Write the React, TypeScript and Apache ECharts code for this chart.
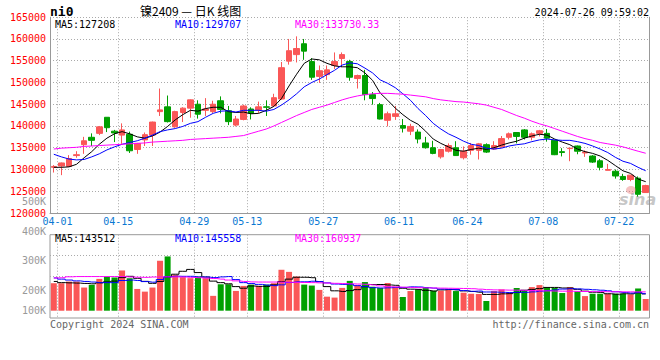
import React, { useEffect, useRef } from 'react';
import * as echarts from 'echarts';

const dates = [
  '04-01','04-02','04-03','04-08','04-09','04-10','04-11','04-12','04-15','04-16',
  '04-17','04-18','04-19','04-22','04-23','04-24','04-25','04-26','04-29','04-30',
  '05-06','05-07','05-08','05-09','05-10','05-13','05-14','05-15','05-16','05-17',
  '05-20','05-21','05-22','05-23','05-24','05-27','05-28','05-29','05-30','05-31',
  '06-03','06-04','06-05','06-06','06-07','06-11','06-12','06-13','06-14','06-17',
  '06-18','06-19','06-20','06-21','06-24','06-25','06-26','06-27','06-28','07-01',
  '07-02','07-03','07-04','07-05','07-08','07-09','07-10','07-11','07-12','07-15',
  '07-16','07-17','07-18','07-19','07-22','07-23','07-24','07-25','07-26'
];
const tickDates = ['04-01','04-15','04-29','05-13','05-27','06-11','06-24','07-08','07-22'];

const opens = [
  130500,130800,130700,133200,135700,137400,138300,142000,138800,137900,
  138100,134600,136800,137900,143300,144400,139800,143100,144100,145000,
  143600,143300,145800,143500,140200,141500,143900,143700,144400,144600,
  146200,154900,156400,158900,154800,151400,151800,153900,155500,154800,
  150900,151600,147200,144900,141300,142200,140100,138800,138600,136100,
  135000,132900,134200,135000,132700,134400,134400,135700,134700,135200,
  137400,138500,139100,137400,138300,138300,136700,134100,134800,135400,
  133800,133100,132000,129800,129600,128400,127700,128000,124700
];
const closes = [
  130700,131500,132500,133400,136600,136700,139800,139600,138400,139100,
  134300,136000,138000,140900,143700,141000,143300,144100,146000,142700,
  143900,145000,143800,141000,141600,144600,142900,144400,144300,146500,
  153400,157300,157800,157200,151200,152700,152900,154800,156400,151200,
  151600,147200,146300,141600,142800,142800,139500,139900,137000,135000,
  133700,134600,135500,133200,134200,135500,135900,134000,135500,137100,
  138200,137600,137400,138200,138900,137200,133400,133900,134900,134200,
  134000,131700,130500,130000,128500,127700,128700,124300,126300
];
const highs = [
  131000,131600,133300,134200,137500,138300,140000,142000,139100,140600,
  138700,136100,138500,141000,148600,147000,143500,144300,146100,145900,
  146400,145800,146800,144600,142300,144900,144300,145600,145900,147400,
  154700,160000,160600,160000,155600,153900,153900,156900,156900,155200,
  151800,152900,147800,145300,143300,144600,141600,140500,139200,137500,
  136600,134700,136000,136500,135300,136100,136100,136000,136500,137700,
  138500,138500,139300,138500,139100,139300,136800,134900,134900,135500,
  134400,133300,132400,131300,130000,129000,128800,128400,126500
];
const lows = [
  129300,128700,130600,132700,133600,135400,137900,138600,136300,135900,
  133800,133600,135400,135400,142300,140800,139600,140900,141900,141700,
  142300,143000,142900,140200,139900,141300,141500,143000,142300,144500,
  146000,154100,154600,155200,150600,149900,150600,153100,153500,150400,
  148600,145900,144900,141500,139900,141400,138500,137900,136000,134800,
  133500,132500,133900,133100,132300,133400,132300,133800,134500,135000,
  136900,136000,136900,136700,137600,136400,133300,133000,131900,133500,
  132900,131500,129800,129800,127900,127400,127300,123700,124600
];
const volumes = [
  235000,235000,249000,249000,198000,221000,272000,292000,284000,344000,
  278000,186000,163000,198000,427000,464000,307000,287000,278000,292000,
  278000,127000,226000,226000,169000,212000,223000,212000,223000,235000,
  350000,332000,292000,223000,215000,178000,120000,112000,195000,255000,
  219000,245000,205000,194000,237000,205000,117000,168000,182000,200000,
  171000,171000,180000,168000,154000,145000,143000,83000,168000,182000,
  154000,194000,177000,202000,219000,202000,194000,151000,202000,165000,
  125000,145000,145000,145000,145000,145000,140000,190000,100000
];
const ma5 = [
  130500,130500,130600,131200,132700,134100,135800,137200,138200,138700,
  138200,137500,137200,137700,138600,139900,141400,142600,143600,143400,
  144000,144300,144300,143300,143100,143200,142800,142900,143600,144500,
  146300,149200,151900,154400,155400,155200,154400,153800,153600,153600,
  153400,152200,150500,147600,145900,144100,142600,141300,140400,138800,
  137000,136000,135200,134400,134200,134600,134900,134600,135000,135600,
  136100,136500,137200,137700,138100,137900,137000,136300,135700,134700,
  134100,133700,133100,132100,130900,129700,129100,127800,127200
];
const ma10 = [
  133500,132900,132400,132200,132300,132900,133600,134500,135200,135800,
  136200,136600,137200,137900,138700,139100,139400,139900,140600,141000,
  142000,142900,143400,143500,143200,143600,143600,143600,143400,143800,
  144800,146000,147400,149000,150000,150800,151800,152800,154000,154500,
  154300,153300,152200,150600,149800,148800,147400,145900,144000,142400,
  140600,139300,138200,137400,136500,135800,135500,134900,134700,134900,
  135400,135700,135900,136400,136800,137000,136800,136700,136700,136400,
  136000,135400,134700,133900,132800,131900,131400,130500,129700
];
const ma30 = [
  134700,134900,135000,135100,135300,135400,135500,135600,135700,135800,
  135900,136000,136100,136300,136400,136500,136600,136700,136900,137000,
  137100,137200,137300,137400,137600,137800,138300,138800,139300,140000,
  140800,141600,142400,143100,143800,144300,144800,145400,146000,146500,
  146900,147200,147400,147500,147500,147400,147300,147100,146900,146700,
  146300,146000,145800,145600,145500,145300,145100,144800,144300,143800,
  143100,142400,141800,141100,140500,140000,139400,138800,138200,137600,
  137100,136700,136200,135900,135600,135200,134700,134200,133730
];
const volMa5 = [
  250000,240000,238000,236000,233000,230000,238000,246000,253000,283000,
  294000,277000,251000,234000,250000,288000,312000,337000,353000,326000,
  288000,253000,240000,230000,206000,192000,211000,208000,208000,221000,
  249000,270000,286000,286000,282000,248000,206000,170000,164000,172000,
  180000,205000,224000,224000,220000,217000,192000,184000,182000,174000,
  168000,178000,181000,178000,169000,164000,158000,139000,139000,144000,
  146000,156000,175000,182000,189000,199000,199000,194000,194000,183000,
  167000,158000,156000,145000,141000,145000,144000,153000,143512
];
const volMa10 = [
  280000,270000,262000,255000,250000,245000,240000,240000,240000,258000,
  262000,258000,249000,244000,267000,291000,295000,294000,294000,288000,
  288000,283000,289000,292000,266000,240000,232000,225000,219000,214000,
  221000,241000,247000,247000,252000,249000,238000,228000,225000,227000,
  214000,206000,197000,194000,196000,199000,199000,204000,203000,197000,
  193000,185000,183000,180000,172000,166000,168000,160000,159000,157000,
  155000,157000,157000,161000,167000,173000,178000,185000,188000,186000,
  183000,179000,175000,170000,162000,156000,151000,155000,145558
];
const volMa30 = [
  280000,282000,290000,292000,292000,292000,292000,292000,292000,292000,
  288000,286000,285000,288000,289000,289000,289000,288000,285000,282000,
  278000,275000,270000,262000,255000,250000,246000,245000,245000,245000,
  244000,243000,242000,241000,240000,238000,236000,234000,232000,230000,
  228000,226000,220000,212000,205000,203000,201000,199000,197000,195000,
  194000,193000,192000,191000,190000,188000,184000,180000,178000,177000,
  176000,175000,174000,172000,170000,169000,168000,167000,166000,165000,
  164000,163000,163000,162000,162000,161000,161000,161000,160937
];

const priceMaLabels = ['MA5:127208', 'MA10:129707', 'MA30:133730.33'];
const volMaLabels = ['MA5:143512', 'MA10:145558', 'MA30:160937'];
const volAxisLabels = ['500K', '400K', '300K', '200K', '100K'];
const titleCode = 'ni0';
const titleName = '镍2409 — 日K 线图';
const timestamp = '2024-07-26 09:59:02';
const copyright = 'Copyright 2024 SINA.COM';
const siteUrl = 'http://finance.sina.com.cn';

const UP = '#fa5757';
const DOWN = '#00a000';
const MONO = '"DejaVu Sans Mono", "Liberation Mono", monospace';
const GRID_LINE = { color: '#aaa', type: [1, 2] as any, width: 1 };

export default function App() {
  const ref = useRef<HTMLDivElement>(null);

  useEffect(() => {
    if (!ref.current) return;
    const chart = echarts.init(ref.current, null, { renderer: 'svg' });

    const boundaries = ['', ...dates];
    const candleData = dates.map((_, i) => [opens[i], closes[i], lows[i], highs[i]]);
    const volData = volumes.map((v, i) => ({
      value: v,
      itemStyle: { color: closes[i] >= opens[i] ? UP : DOWN },
    }));
    const isTick = (_: number, v: string) => tickDates.indexOf(v) >= 0;

    const txt = (text: string, x: number, y: number, fill: string, align = 'left', font = `10px ${MONO}`) => ({
      type: 'text',
      x,
      y,
      z: 100,
      style: { text, fill, font, align, verticalAlign: 'middle' },
    });

    const volLabelY = [201.5, 231.5, 260.7, 290.7, 310.3];

    const option: any = {
      animation: false,
      backgroundColor: '#fff',
      textStyle: { fontFamily: MONO },
      grid: [
        { left: 50, right: 10.5, top: 17.2, bottom: 147, show: false },
        { left: 50, right: 10.5, top: 234.7, bottom: 42, show: true, borderColor: '#999', borderWidth: 1 },
      ],
      xAxis: [
        {
          type: 'category', gridIndex: 0, data: dates, boundaryGap: true,
          axisLine: { show: true, onZero: false, lineStyle: { color: '#999' } },
          axisTick: { show: false }, axisLabel: { show: false }, splitLine: { show: false },
        },
        {
          type: 'category', gridIndex: 0, data: boundaries, boundaryGap: false, position: 'bottom',
          axisLine: { show: false, onZero: false }, axisTick: { show: false },
          axisLabel: {
            show: true, interval: isTick, color: '#0a78d2', fontFamily: MONO, fontSize: 10, margin: 3,
          },
          splitLine: { show: true, interval: isTick, lineStyle: GRID_LINE },
        },
        {
          type: 'category', gridIndex: 1, data: dates, boundaryGap: true,
          axisLine: { show: false, onZero: false }, axisTick: { show: false },
          axisLabel: { show: false }, splitLine: { show: false },
        },
        {
          type: 'category', gridIndex: 1, data: boundaries, boundaryGap: false,
          axisLine: { show: false, onZero: false }, axisTick: { show: false },
          axisLabel: { show: false },
          splitLine: { show: true, interval: isTick, lineStyle: GRID_LINE },
        },
      ],
      yAxis: [
        {
          type: 'value', gridIndex: 0, min: 120000, max: 165000, interval: 5000, position: 'left',
          axisLine: { show: true, lineStyle: { color: '#999' } }, axisTick: { show: false },
          axisLabel: { color: '#f00', fontFamily: MONO, fontSize: 10, margin: 4, formatter: (v: number) => String(v) },
          splitLine: { show: true, lineStyle: GRID_LINE },
        },
        {
          type: 'value', gridIndex: 0, min: 120000, max: 165000, position: 'right',
          axisLine: { show: true, lineStyle: { color: '#999' } }, axisTick: { show: false },
          axisLabel: { show: false }, splitLine: { show: false },
        },
        {
          type: 'value', gridIndex: 1, min: -62400, max: 649800,
          axisLine: { show: false }, axisTick: { show: false },
          axisLabel: { show: false }, splitLine: { show: false },
        },
        {
          type: 'value', gridIndex: 1, min: 0, max: 4, interval: 1,
          axisLine: { show: false }, axisTick: { show: false }, axisLabel: { show: false },
          splitLine: {
            show: true,
            lineStyle: { color: ['rgba(0,0,0,0)', 'rgba(0,0,0,0)', '#aaa', '#aaa', 'rgba(0,0,0,0)'], type: [1, 2], width: 1 },
          },
        },
      ],
      series: [
        {
          type: 'candlestick', xAxisIndex: 0, yAxisIndex: 0, data: candleData, barWidth: 6,
          itemStyle: { color: UP, color0: DOWN, borderColor: UP, borderColor0: DOWN, borderWidth: 1 },
        },
        { type: 'line', xAxisIndex: 0, yAxisIndex: 0, data: ma5, showSymbol: false, lineStyle: { color: '#000', width: 1 }, z: 5 },
        { type: 'line', xAxisIndex: 0, yAxisIndex: 0, data: ma10, showSymbol: false, lineStyle: { color: '#0000ff', width: 1 }, z: 5 },
        { type: 'line', xAxisIndex: 0, yAxisIndex: 0, data: ma30, showSymbol: false, lineStyle: { color: '#ff00ff', width: 1 }, z: 5 },
        { type: 'bar', xAxisIndex: 2, yAxisIndex: 2, data: volData, barWidth: 6 },
        { type: 'line', xAxisIndex: 2, yAxisIndex: 2, data: volMa5, step: 'middle', showSymbol: false, lineStyle: { color: '#000', width: 1 }, z: 5 },
        { type: 'line', xAxisIndex: 2, yAxisIndex: 2, data: volMa10, step: 'middle', showSymbol: false, lineStyle: { color: '#0000ff', width: 1 }, z: 5 },
        { type: 'line', xAxisIndex: 2, yAxisIndex: 2, data: volMa30, step: 'middle', showSymbol: false, lineStyle: { color: '#ff00ff', width: 1 }, z: 5 },
      ],
      graphic: [
        txt(titleCode, 50, 11, '#000', 'left', `bold 13px ${MONO}`),
        txt(titleName, 140, 10, '#000', 'left', '12px "Noto Sans CJK SC", sans-serif'),
        txt(timestamp, 649, 12, '#000', 'right'),
        txt(priceMaLabels[0], 55, 24, '#000'),
        txt(priceMaLabels[1], 175, 24, '#0000ff'),
        txt(priceMaLabels[2], 295, 24, '#ff00ff'),
        txt(volMaLabels[0], 55, 238.5, '#000'),
        txt(volMaLabels[1], 175, 238.5, '#0000ff'),
        txt(volMaLabels[2], 295, 238.5, '#ff00ff'),
        ...volAxisLabels.map((t, i) => txt(t, 46, volLabelY[i], '#999', 'right')),
        txt(copyright, 50, 324, '#666'),
        txt(siteUrl, 649, 324, '#666', 'right'),
        {
          type: 'ellipse', z: 90, shape: { cx: 631, cy: 190, rx: 5, ry: 4 },
          style: { fill: 'rgba(235,120,120,0.45)' },
        },
        txt('sina', 619, 199, 'rgba(150,150,150,0.55)', 'left', 'italic bold 16px "DejaVu Sans", sans-serif'),
      ],
    };

    chart.setOption(option);
    return () => chart.dispose();
  }, []);

  return (
    <div
      ref={ref}
      style={{ position: 'fixed', left: 0, top: 0, width: 660, height: 360, background: '#fff' }}
    />
  );
}
